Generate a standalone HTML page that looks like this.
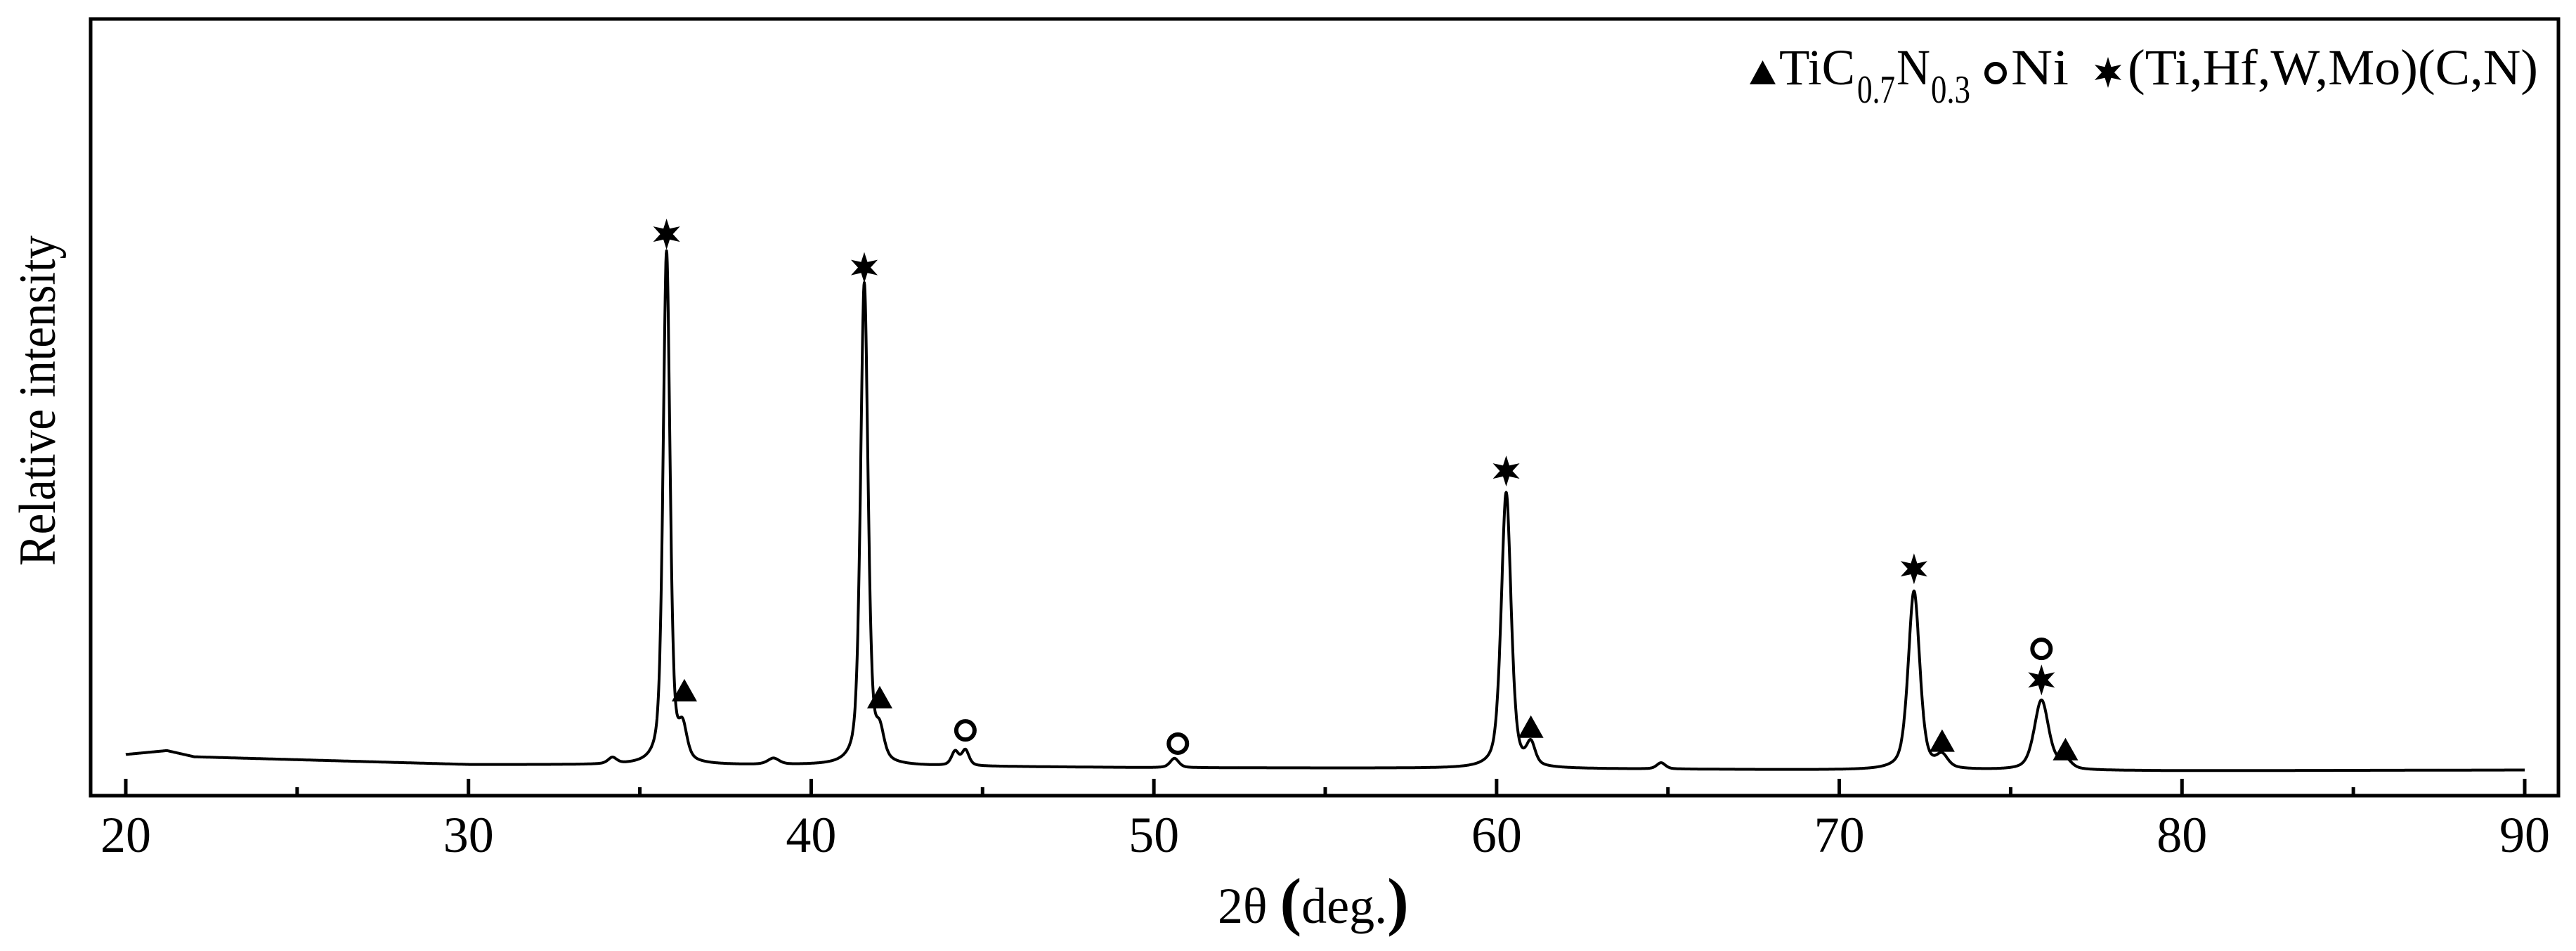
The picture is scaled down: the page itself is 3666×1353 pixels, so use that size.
<!DOCTYPE html>
<html><head><meta charset="utf-8"><style>
html,body{margin:0;padding:0;background:#fff;}
svg{display:block;}
text{font-family:"Liberation Serif","DejaVu Serif",serif;fill:#000;}
</style></head><body>
<svg id="chart" width="3666" height="1353" viewBox="0 0 3666 1353" xmlns="http://www.w3.org/2000/svg">
<rect x="0" y="0" width="3666" height="1353" fill="#fff"/>
<g id="plot"></g>
<rect x="129" y="27" width="3512" height="1105" fill="none" stroke="#000" stroke-width="5"/>
<g id="xticks"></g>
<text transform="translate(78,805) rotate(-90)" font-size="74" textLength="470" lengthAdjust="spacingAndGlyphs">Relative intensity</text>
<text x="1733" y="1313" font-size="72">2θ <tspan font-size="92" font-weight="bold">(</tspan>deg.<tspan font-size="92" font-weight="bold">)</tspan></text>
<g>
  <polygon points="2490,120 2527,120 2508.5,86" fill="#000"/>
  <text x="2532" y="120" font-size="72" textLength="108" lengthAdjust="spacingAndGlyphs">TiC</text>
  <text x="2643" y="146" font-size="56" textLength="54" lengthAdjust="spacingAndGlyphs">0.7</text>
  <text x="2699" y="120" font-size="72" textLength="48" lengthAdjust="spacingAndGlyphs">N</text>
  <text x="2748" y="146" font-size="56" textLength="56" lengthAdjust="spacingAndGlyphs">0.3</text>
  <circle cx="2840" cy="104" r="13" fill="none" stroke="#000" stroke-width="6"/>
  <text x="2862" y="120" font-size="72" textLength="82" lengthAdjust="spacingAndGlyphs">Ni</text>
  <polygon id="legstar" fill="#000"/>
  <text x="3028" y="120" font-size="72" textLength="584" lengthAdjust="spacingAndGlyphs">(Ti,Hf,W,Mo)(C,N)</text>
</g>
</svg>
<script>
// ---- data ----
const xTicks = [20,30,40,50,60,70,80,90];
const xMinorTicks = [25,35,45,55,65,75,85];
const baseX = [20, 21.2, 22, 30, 40, 50, 60, 70, 80, 90];
const baseY = [5.3, 5.8, 5.0, 4.0, 3.9, 3.6, 3.5, 3.3, 3.2, 3.3];
const peakPos = [35.78, 36.25, 41.55, 42.0, 44.2, 44.5, 50.6, 60.28, 61.0, 72.18, 73.0, 75.9, 76.6, 34.2, 38.9, 64.8];
const peakHeight = [66.0, 4.0, 62.0, 3.5, 1.8, 2.0, 1.2, 35.5, 2.8, 23.0, 1.6, 9.0, 1.2, 0.8, 0.8, 0.8];
const peakWidth = [0.24, 0.3, 0.26, 0.3, 0.25, 0.25, 0.3, 0.34, 0.3, 0.4, 0.4, 0.5, 0.4, 0.3, 0.4, 0.3];
const starPos = [35.78, 41.55, 60.28, 72.18, 75.9];
const starY = [72.3, 68.0, 41.8, 29.2, 14.9];
const triPos = [36.3, 42.0, 61.0, 73.0, 76.6];
const triY = [13.5, 12.6, 8.8, 7.0, 5.9];
const circPos = [44.5, 50.7, 75.9];
const circY = [8.4, 6.7, 18.9];

// ---- axes ----
const L=129, R=3641, T=27, B=1132;
const xs = v => 179 + (v-20)*(3593-179)/70;
const ys = v => B - v*(B-T)/100;
const NS="http://www.w3.org/2000/svg";
function mk(tag, attrs, parent){const e=document.createElementNS(NS,tag);for(const k in attrs)e.setAttribute(k,attrs[k]);parent.appendChild(e);return e;}
function starPts(cx,cy,ro,ri){let p=[];for(let i=0;i<12;i++){const a=-Math.PI/2+i*Math.PI/6;const r=i%2?ri:ro;p.push((cx+r*Math.cos(a)).toFixed(1)+','+(cy+r*Math.sin(a)).toFixed(1));}return p.join(' ');}
document.getElementById('legstar').setAttribute('points',starPts(3000,103,22,9));
const gx=document.getElementById('xticks');
xTicks.forEach(t=>{
  const l=mk('line',{x1:xs(t),x2:xs(t),y1:B,y2:B-24,stroke:'#000','stroke-width':5},gx);
  
  
  const tx=mk('text',{x:xs(t),y:1212,'font-size':72,'text-anchor':'middle'},gx);
  tx.textContent=t;
  
  
});
xMinorTicks.forEach(t=>{
  const l=mk('line',{x1:xs(t),x2:xs(t),y1:B,y2:B-12,stroke:'#000','stroke-width':5},gx);
  
  
});

// ---- curve ----
function base(x){for(let i=0;i<baseX.length-1;i++){if(x<=baseX[i+1]){const f=(x-baseX[i])/(baseX[i+1]-baseX[i]);return baseY[i]+f*(baseY[i+1]-baseY[i]);}}return baseY[baseY.length-1];}
function intensity(x){let s=base(x);for(let i=0;i<peakPos.length;i++){const d=(x-peakPos[i])/(peakWidth[i]/2);const lor=1/(1+d*d);const gau=Math.exp(-0.693*d*d);s+=peakHeight[i]*(0.5*lor+0.5*gau);}return s;}
const plot=document.getElementById('plot');
let d='';
for(let x=20;x<=90.0001;x+=0.01){d+=(d?'L':'M')+xs(x).toFixed(1)+','+ys(intensity(x)).toFixed(1);}
const path=mk('path',{d:d,fill:'none',stroke:'#000','stroke-width':4,'stroke-linejoin':'round'},plot);



// ---- markers ----
starPos.forEach((p,i)=>{
  const t=mk('polygon',{points:starPts(xs(p),ys(starY[i]),22,9),fill:'#000'},plot);
  
  
});
triPos.forEach((p,i)=>{
  const cx=xs(p), cy=ys(triY[i]);
  const t=mk('polygon',{points:`${cx-18},${cy+15} ${cx+18},${cy+15} ${cx},${cy-17}`,fill:'#000'},plot);
  
  
});
circPos.forEach((p,i)=>{
  const c=mk('circle',{cx:xs(p),cy:ys(circY[i]),r:13,fill:'none',stroke:'#000','stroke-width':6},plot);
  
  
});
</script>
</body></html>
